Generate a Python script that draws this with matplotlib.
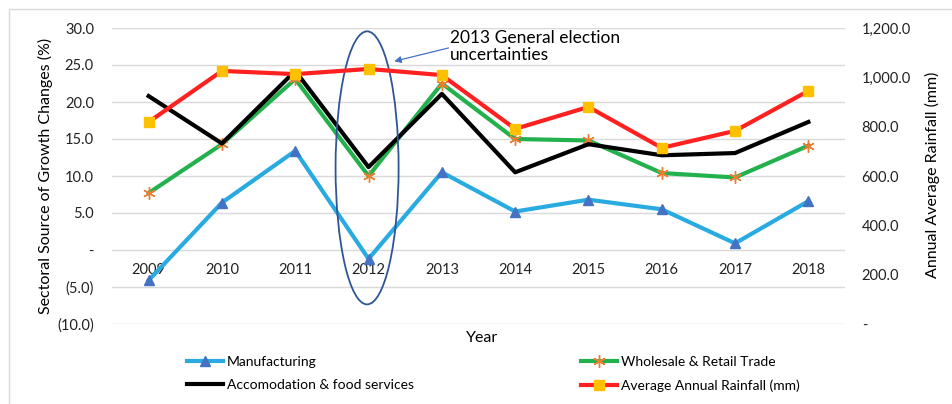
import matplotlib
matplotlib.use("Agg")
import matplotlib.pyplot as plt
from matplotlib.patches import Ellipse, Rectangle
from matplotlib.ticker import FixedLocator, FuncFormatter

plt.rcParams['font.family'] = ['Lato', 'DejaVu Sans']

years = ["2009", "2010", "2011", "2012", "2013", "2014", "2015", "2016", "2017", "2018"]
manufacturing = [-4.1, 6.4, 13.4, -1.2, 10.5, 5.2, 6.8, 5.5, 0.9, 6.6]
wholesale = [7.7, 14.3, 23.1, 10.0, 22.5, 15.0, 14.8, 10.4, 9.8, 14.1]
accomodation = [20.8, 14.4, 24.2, 11.2, 21.1, 10.5, 14.3, 12.8, 13.1, 17.3]
rainfall = [819, 1026, 1013, 1034, 1009, 791, 880, 714, 783, 945]

left_ticks = [-10, -5, 0, 5, 10, 15, 20, 25, 30]
right_ticks = [0, 200, 400, 600, 800, 1000, 1200]


def pct_fmt(v, pos):
    if abs(v) < 1e-9:
        return "-"
    if v < 0:
        return "({:.1f})".format(-v)
    return "{:.1f}".format(v)


def mm_fmt(v, pos):
    if abs(v) < 1e-9:
        return "-"
    return "{:,.1f}".format(v)


fig = plt.figure(figsize=(9.52, 4.04), dpi=100)
ax = fig.add_axes([112 / 952, 1 - 324 / 404, (845 - 112) / 952, (324 - 28) / 404])
ax2 = ax.twinx()

x = list(range(len(years)))
ax.plot(x, manufacturing, color="#29ABE2", lw=3, marker="^", ms=7,
        mfc="#4472C4", mec="#4472C4", label="Manufacturing", zorder=3)
ax.plot(x, wholesale, color="#22B14C", lw=3, marker=(6, 2, 0), ms=9,
        mfc="#ED7D31", mec="#ED7D31", mew=1.0, label="Wholesale & Retail Trade", zorder=3)
ax.plot(x, accomodation, color="black", lw=3, label="Accomodation & food services", zorder=3)
ax2.plot(x, rainfall, color="#FF2020", lw=3, marker="s", ms=7,
         mfc="#FFC000", mec="#FFC000", label="Average Annual Rainfall (mm)", zorder=3)

ax.set_xlim(-0.5, len(years) - 0.5)
ax.set_ylim(-10, 30)
ax2.set_ylim(0, 1200)
ax.yaxis.set_major_locator(FixedLocator(left_ticks))
ax.yaxis.set_major_formatter(FuncFormatter(pct_fmt))
ax2.yaxis.set_major_locator(FixedLocator(right_ticks))
ax2.yaxis.set_major_formatter(FuncFormatter(mm_fmt))
ax.set_xticks(x)
ax.set_xticklabels(years)

ax.grid(axis="y", color="#D9D9D9", lw=1)
ax.set_axisbelow(True)
for a in (ax, ax2):
    for s in a.spines.values():
        s.set_visible(False)
ax.spines['bottom'].set_position(('data', 0))
ax.tick_params(axis="both", length=0, labelsize=10.5, colors="#222222")
ax.tick_params(axis="x", pad=9)
ax.tick_params(axis="y", pad=13)
ax2.tick_params(axis="y", length=0, labelsize=10.5, colors="#222222", pad=12)

# axis titles
fig.text(45 / 952, 1 - 176 / 404, "Sectoral Source of Growth Changes (%)", rotation=90,
         ha="center", va="center", fontsize=11.5)
fig.text(932 / 952, 1 - 175 / 404, "Annual Average Rainfall (mm)", rotation=90,
         ha="center", va="center", fontsize=11.5)
fig.text(482 / 952, 1 - 338 / 404, "Year", ha="center", va="center", fontsize=11.5)

# highlight the 2012 dip
ell = Ellipse((2.98, 11.1), width=0.86, height=36.9, fill=False, ec="#2F5597", lw=1.3, zorder=4)
ax.add_patch(ell)
ax.annotate("", xy=(3.35, 25.5), xytext=(4.09, 27.3),
            arrowprops=dict(arrowstyle="-|>", color="#4472C4", lw=0.9,
                            shrinkA=0, shrinkB=0, mutation_scale=10),
            zorder=5)
ax.text(4.11, 27.5, "2013 General election\nuncertainties", fontsize=12.5,
        ha="left", va="center", linespacing=1.1, zorder=5)

h1, l1 = ax.get_legend_handles_labels()
h2, l2 = ax2.get_legend_handles_labels()
order = [0, 2, 1]
handles = [h1[i] for i in order] + h2
labels = [l1[i] for i in order] + l2
fig.legend(handles, labels, ncol=2, loc="upper left", bbox_to_anchor=(180 / 952, 1 - 349 / 404),
           frameon=False, handlelength=2.6, handletextpad=0.3,
           columnspacing=12, labelspacing=0.8, borderpad=0,
           prop={'family': ['Liberation Sans Narrow', 'Lato'], 'size': 10})

fig.patches.append(Rectangle((9 / 952, -0.1), 1.2, 1 - 9 / 404 + 0.1, transform=fig.transFigure,
                             fill=False, ec="#D9D9D9", lw=1))

fig.savefig("out.png", dpi=100)
